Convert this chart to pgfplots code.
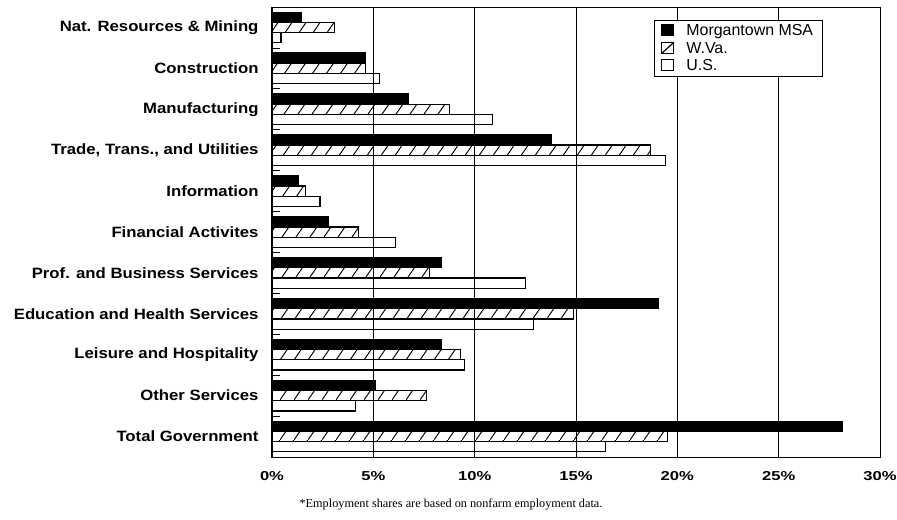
\documentclass[border=0pt]{standalone}
\usepackage{fontspec}
\setmainfont{Liberation Sans}
\newfontfamily\catfont{Liberation Sans}[FakeStretch=1.12]
\newfontfamily\tickfont{Liberation Sans}[FakeStretch=1.28]
\newfontfamily\footfont{Liberation Serif}
\usepackage{pgfplots}
\usepackage{pgfplotstable}
\pgfplotsset{compat=1.18}
\usetikzlibrary{patterns.meta}

% sparse "/" hatching for the W.Va. bars
\tikzdeclarepattern{
  name=wvhatch,
  type=uncolored,
  bounding box={(0,0) and (14bp,20bp)},
  tile size={(14bp,20bp)},
  code={\draw[line width=1bp] (-1bp,-1.43bp) -- (15bp,21.43bp);}
}

% shares in percent, rows top to bottom
\pgfplotstableread{
idx  msa    wva    us
0    1.46   3.10   0.44
1    4.63   4.60   5.29
2    6.72   8.77   10.87
3    13.78  18.67  19.40
4    1.32   1.66   2.37
5    2.78   4.26   6.10
6    8.37   7.78   12.49
7    19.07  14.86  12.90
8    8.38   9.29   9.50
9    5.10   7.63   4.13
10   28.13  19.53  16.45
}\shares

\begin{document}
\begin{tikzpicture}
\useasboundingbox (-272bp,-63bp) rectangle (625bp,457bp);
\begin{axis}[
  at={(0,0)}, anchor=south west,
  scale only axis, width=608bp, height=450bp,
  xmin=0, xmax=30, ymin=-0.5, ymax=10.5, y dir=reverse,
  xtick={0,5,...,30},
  xticklabels={0\%,5\%,10\%,15\%,20\%,25\%,30\%},
  ytick={0,...,10},
  yticklabels={Nat. Resources \& Mining, Construction, Manufacturing,
    {Trade, Trans., and Utilities}, Information, Financial Activites,
    Prof. and Business Services\hspace{4bp}, Education and Health Services\hspace{4bp},
    Leisure and Hospitality, Other Services, Total Government\hspace{4bp}},
  minor ytick={0.5,1.5,...,9.5},
  xtick pos=bottom, ytick pos=left,
  major tick length=0pt, minor tick length=8bp, tick align=inside,
  minor tick style={black, line width=0.8bp},
  xmajorgrids, major grid style={black, line width=0.8bp},
  axis line style={black, line width=1bp},
  yticklabel style={font=\catfont\bfseries\fontsize{15}{18}\selectfont, xshift=-10bp},
  xticklabel style={font=\tickfont\bfseries\fontsize{13}{16}\selectfont, yshift=-11bp},
  legend style={at={(0.628,0.971)}, anchor=north west, draw=black,
    line width=0.8bp, font=\fontsize{16}{18}\selectfont,
    row sep=1bp, inner xsep=7bp, inner ysep=2bp,
    /tikz/every odd column/.append style={column sep=10bp}},
  legend cell align=left,
]
\addlegendimage{legend image code/.code={\draw[black, fill=black, line width=1bp] (0bp,-5bp) rectangle (12bp,6bp);}}
\addlegendentry{Morgantown MSA}
\addlegendimage{legend image code/.code={\draw[black, fill=white, line width=1.2bp] (0bp,-5bp) rectangle (12bp,6bp);
    \draw[black, line width=1.2bp] (0bp,-5bp) -- (12bp,6bp);}}
\addlegendentry{W.Va.}
\addlegendimage{legend image code/.code={\draw[black, fill=white, line width=1.2bp] (0bp,-5bp) rectangle (12bp,6bp);}}
\addlegendentry{U.S.}

\addplot[xbar, bar width=10.2bp, bar shift=10.2bp, draw=black, fill=black,
  line width=1.2bp, forget plot]
  table[x=msa, y=idx] {\shares};
\addplot[xbar, bar width=10.2bp, bar shift=0bp, draw=black, pattern=wvhatch,
  line width=1.2bp, forget plot]
  table[x=wva, y=idx] {\shares};
\addplot[xbar, bar width=10.2bp, bar shift=-10.2bp, draw=black,
  line width=1.2bp, forget plot]
  table[x=us, y=idx] {\shares};
\end{axis}
\node[font=\footfont\fontsize{12.3}{14}\selectfont] at (179bp,-48bp)
  {*Employment shares are based on nonfarm employment data.};
\end{tikzpicture}
\end{document}
